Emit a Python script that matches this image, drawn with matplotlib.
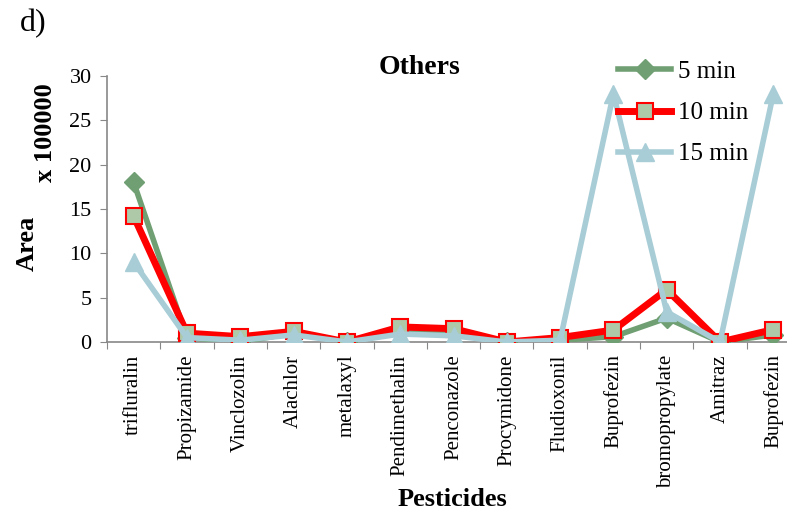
import numpy as np
import matplotlib
matplotlib.use('Agg')
import matplotlib.pyplot as plt

plt.rcParams['font.family'] = ['Liberation Serif', 'DejaVu Serif']

pesticides = ['trifluralin', 'Propizamide', 'Vinclozolin', 'Alachlor', 'metalaxyl',
              'Pendimethalin', 'Penconazole', 'Procymidone', 'Fludioxonil', 'Buprofezin',
              'bromopropylate', 'Amitraz', 'Buprofezin']
min5 = [18.0, 0.5, 0.0, 1.0, 0.0, 1.2, 1.0, 0.0, 0.2, 0.6, 2.7, 0.0, 0.8]
min10 = [14.2, 1.0, 0.6, 1.2, 0.0, 1.7, 1.5, 0.0, 0.5, 1.35, 5.9, 0.0, 1.4]
min15 = [9.0, 0.5, 0.2, 0.8, 0.0, 0.9, 0.7, 0.0, 0.2, 28.0, 3.4, 0.0, 28.0]

fig = plt.figure(figsize=(7.87, 5.15), dpi=100)
ax = fig.add_axes([107/787, 1-342/515, 693/787, 266/515])

x = np.arange(len(pesticides))
ax.plot(x, min5, color='#6f9f72', lw=4, marker='D', ms=10, mfc='#6f9f72', mec='#6f9f72', label='5 min', zorder=3)
ax.plot(x, min10, color='#ff0000', lw=5, marker='s', ms=12, mfc='#adc9a8', mec='#ff0000', mew=1.5, label='10 min', zorder=4)
ax.plot(x, min15, color='#a8cdd6', lw=4, marker='^', ms=13, mfc='#a8cdd6', mec='#a8cdd6', label='15 min', zorder=5)

ax.set_xlim(-0.5, len(pesticides)-0.5)
ax.set_ylim(0, 30)
ax.set_yticks(range(0, 31, 5))
ax.set_xticks(np.arange(len(pesticides)+1) - 0.5, minor=False)
ax.set_xticklabels([])
ax.set_xticks(x, minor=True)
ax.set_xticklabels(pesticides, minor=True, rotation=90, fontsize=15)
ax.tick_params(axis='x', which='minor', length=0, pad=9)
ax.tick_params(axis='x', which='major', length=5, color='#888888', direction='out')
ax.tick_params(axis='y', length=5, color='#888888', labelsize=16, direction='out', pad=6)
for s in ['top', 'right']:
    ax.spines[s].set_visible(False)
for s in ['left', 'bottom']:
    ax.spines[s].set_color('#888888')
    ax.spines[s].set_linewidth(1.2)

fig.text(452/787, 1-500/515, 'Pesticides', fontsize=19, fontweight='bold', ha='center', va='center')
fig.text(27/787, 1-243/515, 'Area', rotation=90, fontsize=19, fontweight='bold', ha='center', va='center')
fig.text(46/787, 1-133/515, 'x 100000', rotation=90, fontsize=19, fontweight='bold', ha='center', va='center')
fig.text(420/787, 1-67/515, 'Others', fontsize=20, fontweight='bold', ha='center', va='center')
fig.text(20/787, 1-24/515, 'd)', fontsize=23, ha='left', va='center')

leg = ax.legend(loc='upper right', bbox_to_anchor=(771/787, 1-38/515), bbox_transform=fig.transFigure,
                frameon=False, fontsize=18, handlelength=2.1, labelspacing=0.75, handletextpad=0.3)

fig.savefig('out.png', dpi=100)
